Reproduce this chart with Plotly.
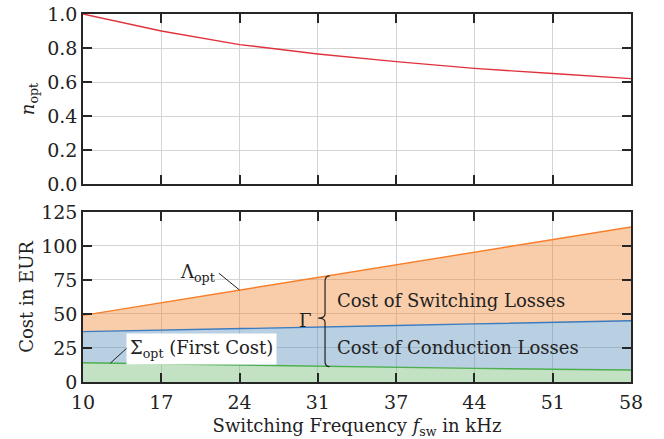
import numpy as np
import plotly.graph_objects as go
from plotly.subplots import make_subplots

# Switching frequencies (kHz) and tick labels
freq = [10.0, 16.857, 23.714, 30.571, 37.429, 44.286, 51.143, 58.0]
freq_labels = ["10", "17", "24", "31", "37", "44", "51", "58"]

# Optimal turns ratio
n_opt = [1.0, 0.90, 0.82, 0.765, 0.72, 0.68, 0.65, 0.62]

# Cost components in EUR
sigma_opt = [14.2, 13.3, 12.3, 11.3, 10.6, 10.0, 9.4, 8.8]        # first cost
cond_top = [37.0, 38.0, 39.1, 40.5, 41.5, 42.7, 43.8, 45.0]       # + conduction losses
lambda_opt = [49.0, 58.3, 67.6, 77.0, 86.2, 95.5, 104.8, 114.0]  # + switching losses

cost_ticks = [0, 25, 50, 75, 100, 125]
n_ticks = [0.0, 0.2, 0.4, 0.6, 0.8, 1.0]

FONT = "DejaVu Serif"
FS = 18
TXT = "#222"
AXCOL = "#262626"
GRID = "#d4d4d4"

fig = make_subplots(rows=2, cols=1, shared_xaxes=False, vertical_spacing=0.0)

fig.add_trace(go.Scatter(x=freq, y=n_opt, mode="lines",
                         line=dict(color="#e0323c", width=1.4),
                         showlegend=False), row=1, col=1)

fig.add_trace(go.Scatter(x=freq, y=sigma_opt, mode="lines", fill="tozeroy",
                         fillcolor="rgba(105,180,105,0.4)",
                         line=dict(color="#4caf50", width=1.4),
                         showlegend=False), row=2, col=1)
fig.add_trace(go.Scatter(x=freq, y=cond_top, mode="lines", fill="tonexty",
                         fillcolor="rgba(80,135,182,0.4)",
                         line=dict(color="#3b7bbf", width=1.4),
                         showlegend=False), row=2, col=1)
fig.add_trace(go.Scatter(x=freq, y=lambda_opt, mode="lines", fill="tonexty",
                         fillcolor="rgba(242,130,42,0.4)",
                         line=dict(color="#f77f2a", width=1.4),
                         showlegend=False), row=2, col=1)

axis_common = dict(showline=True, linecolor=AXCOL, linewidth=1.6, mirror="ticks",
                   ticks="inside", ticklen=9, tickwidth=1.6, tickcolor=AXCOL,
                   showgrid=True, gridcolor=GRID, gridwidth=1, zeroline=False,
                   automargin=False,
                   tickfont=dict(family=FONT, size=FS + 1, color=TXT))

fig.update_xaxes(range=[10, 58], tickvals=freq, ticktext=freq_labels,
                 ticklabelstandoff=2, **axis_common)
fig.update_xaxes(showticklabels=False, row=1, col=1)
fig.update_xaxes(title=dict(text="Switching Frequency <i>f</i><sub>sw</sub> in kHz",
                            font=dict(family=FONT, size=FS, color=TXT), standoff=10),
                 row=2, col=1)
fig.update_yaxes(**axis_common)
fig.update_yaxes(range=[0, 1], tickvals=n_ticks, ticktext=[f"{v:.1f}" for v in n_ticks],
                 title=dict(text="<i>n</i><sub>opt</sub>",
                            font=dict(family=FONT, size=FS, color=TXT), standoff=8),
                 row=1, col=1)
fig.update_yaxes(range=[0, 125], tickvals=cost_ticks,
                 title=dict(text="Cost in EUR",
                            font=dict(family=FONT, size=FS, color=TXT), standoff=3),
                 row=2, col=1)

fig.update_layout(
    width=664, height=439,
    margin=dict(l=83, r=33, t=14, b=57, autoexpand=False),
    plot_bgcolor="white", paper_bgcolor="white",
    yaxis=dict(domain=[0.538, 1.0]),
    yaxis2=dict(domain=[0.0, 0.462]),
)

# Pointer for the Lambda_opt label
i_lam = 2
fig.add_shape(type="line", xref="x2", yref="y2",
              x0=21.9, y0=80.0, x1=freq[i_lam], y1=lambda_opt[i_lam],
              line=dict(color=TXT, width=1))
fig.add_annotation(xref="x2", yref="y2", x=21.7, y=80.5, xanchor="right",
                   text="Λ<sub>opt</sub>", showarrow=False,
                   font=dict(family=FONT, size=FS, color=TXT))

# Pointer for the Sigma_opt label
x_sig = 12.4
y_sig = float(np.interp(x_sig, freq, sigma_opt))
fig.add_shape(type="line", xref="x2", yref="y2",
              x0=13.85, y0=25.0, x1=x_sig, y1=y_sig,
              line=dict(color=TXT, width=1))
fig.add_annotation(xref="x2", yref="y2", x=13.8, y=24.6, xanchor="left",
                   text="Σ<sub>opt</sub> (First Cost)", showarrow=False,
                   bgcolor="white", borderpad=3,
                   font=dict(family=FONT, size=FS, color=TXT))

# Curly brace spanning the loss costs (Gamma)
xe, xv, xt = 31.6, 31.2, 30.6
yt, ym, yb = 78.0, 47.0, 11.25
brace = (f"M {xe},{yt} Q {xv},{yt} {xv},{yt-4} L {xv},{ym+3} "
         f"Q {xv},{ym} {xt},{ym} Q {xv},{ym} {xv},{ym-3} "
         f"L {xv},{yb+4} Q {xv},{yb} {xe},{yb}")
fig.add_shape(type="path", path=brace, xref="x2", yref="y2",
              line=dict(color=TXT, width=1.2))
fig.add_annotation(xref="x2", yref="y2", x=29.45, y=45.5, text="Γ",
                   showarrow=False, font=dict(family=FONT, size=FS, color=TXT))

fig.add_annotation(xref="x2", yref="y2", x=32.1, y=59.6, xanchor="left",
                   text="Cost of Switching Losses", showarrow=False,
                   font=dict(family=FONT, size=FS, color=TXT))
fig.add_annotation(xref="x2", yref="y2", x=32.1, y=25.0, xanchor="left",
                   text="Cost of Conduction Losses", showarrow=False,
                   font=dict(family=FONT, size=FS, color=TXT))

fig.write_html("out.html")
